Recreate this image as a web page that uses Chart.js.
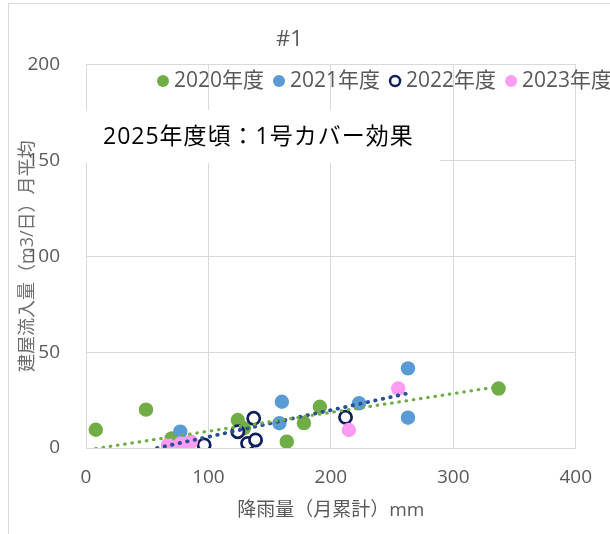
<!DOCTYPE html>
<html>
<head>
<meta charset="utf-8">
<script src="https://cdn.jsdelivr.net/npm/chart.js@4.4.1/dist/chart.umd.min.js"></script>
<style>
  html, body { margin: 0; padding: 0; background: #ffffff; }
  #wrap { width: 610px; height: 534px; }
</style>
</head>
<body>
<div id="wrap"><canvas id="c" width="610" height="534"></canvas></div>
<script>
// Monthly rainfall (mm) vs. mean building inflow (m3/day), #1
const seriesLabels = ['2020年度', '2021年度', '2022年度', '2023年度'];

const rain2020   = [8, 49, 70, 124, 129, 164, 178, 191, 337];
const inflow2020 = [9.5, 20, 5, 14.6, 10.3, 3.3, 13, 21.5, 31];

const rain2021   = [77, 158, 160, 223, 263, 263];
const inflow2021 = [8.5, 12.9, 24.1, 23.3, 41.5, 15.8];

const rain2022   = [96.5, 124, 132, 137, 138.5, 212];
const inflow2022 = [1.6, 8.5, 2.4, 15.5, 4.2, 16];

const rain2023   = [67, 77.6, 85.7, 214.7, 255];
const inflow2023 = [1.6, 2.4, 3.3, 9.4, 31];

// linear trend lines (end points)
const trendRain2020   = [8, 337];
const trendInflow2020 = [-0.3, 32];
const trendRain2021   = [58, 263];
const trendInflow2021 = [0, 28.5];

const xTicks = [0, 100, 200, 300, 400];
const yTicks = [0, 50, 100, 150, 200];

const chartTitle = '#1';
const xTitle = '降雨量（月累計）mm';
const yTitle = '建屋流入量（m3/日）月平均';
const noteText = '2025年度頃：1号カバー効果';

const colors = {
  g2020: '#70AD47',
  b2021: '#5B9BD5',
  n2022: '#0E1F5B',
  p2023: '#FC9CF2',
  trendBlue: '#2A4F94',
  grid: '#D9D9D9',
  text: '#595959',
  yTitle: '#6E6E6E'
};

const FONT = "'Open Sans', 'Noto Sans CJK JP', sans-serif";

const pts = (xs, ys) => xs.map((x, i) => ({ x: x, y: ys[i] }));

function markerSet(label, xs, ys, fill, stroke, order, radius, bw) {
  return {
    label: label,
    data: pts(xs, ys),
    showLine: false,
    pointRadius: radius,
    pointHoverRadius: radius,
    pointBackgroundColor: fill,
    pointBorderColor: stroke,
    pointBorderWidth: bw,
    order: order
  };
}

function trendSet(xs, ys, color, width, dash) {
  return {
    label: '',
    data: pts(xs, ys),
    showLine: true,
    pointRadius: 0,
    pointHoverRadius: 0,
    borderColor: color,
    borderWidth: width,
    borderDash: dash,
    borderCapStyle: 'round',
    fill: false,
    isTrend: true,
    order: 0
  };
}

// page background, outer frame, note box, legend
const decor = {
  id: 'decor',
  beforeDraw(chart) {
    const ctx = chart.ctx;
    ctx.save();
    ctx.fillStyle = '#ffffff';
    ctx.fillRect(0, 0, chart.width, chart.height);
    ctx.strokeStyle = '#D9D9D9';
    ctx.lineWidth = 1;
    ctx.strokeRect(8.5, 3.5, 800, 800);
    ctx.restore();
  },
  beforeDatasetsDraw(chart) {
    const ctx = chart.ctx;
    ctx.save();
    ctx.fillStyle = '#ffffff';
    ctx.fillRect(68, 110, 372, 53);
    ctx.fillStyle = '#000000';
    ctx.font = '23px ' + FONT;
    ctx.textBaseline = 'middle';
    ctx.textAlign = 'left';
    if ('letterSpacing' in ctx) ctx.letterSpacing = '1px';
    ctx.fillText(noteText, 103, 137);
    ctx.restore();
  },
  afterDraw(chart) {
    const ctx = chart.ctx;
    ctx.save();
    ctx.font = '21px ' + FONT;
    ctx.textBaseline = 'middle';
    ctx.textAlign = 'left';
    let x = 157;
    const y = 81;
    const r = 6;
    chart.data.datasets.forEach(ds => {
      if (ds.isTrend) return;
      ctx.beginPath();
      ctx.arc(x + r, y, ds.pointBorderWidth > 1 ? r - 1 : r, 0, Math.PI * 2);
      ctx.fillStyle = ds.pointBackgroundColor;
      ctx.fill();
      if (ds.pointBorderWidth > 1) {
        ctx.lineWidth = 2.5;
        ctx.strokeStyle = ds.pointBorderColor;
        ctx.stroke();
      }
      x += 2 * r + 5;
      ctx.fillStyle = colors.text;
      ctx.fillText(ds.label, x, y);
      x += ctx.measureText(ds.label).width + 9;
    });
    ctx.restore();
  }
};

new Chart(document.getElementById('c'), {
  type: 'scatter',
  data: {
    datasets: [
      trendSet(trendRain2020, trendInflow2020, colors.g2020, 3.2, [0.5, 6.8]),
      trendSet(trendRain2021, trendInflow2021, colors.trendBlue, 3.8, [0.5, 7.2]),
      markerSet(seriesLabels[0], rain2020, inflow2020, colors.g2020, colors.g2020, 5, 7.2, 0),
      markerSet(seriesLabels[1], rain2021, inflow2021, colors.b2021, colors.b2021, 4, 7.2, 0),
      markerSet(seriesLabels[2], rain2022, inflow2022, '#ffffff', colors.n2022, 3, 6.1, 2.7),
      markerSet(seriesLabels[3], rain2023, inflow2023, colors.p2023, colors.p2023, 2, 7.2, 0)
    ]
  },
  options: {
    responsive: false,
    animation: false,
    devicePixelRatio: 1,
    layout: { padding: { left: 0, right: 31, top: 0, bottom: 0 } },
    plugins: {
      legend: { display: false },
      tooltip: { enabled: false },
      title: {
        display: true,
        text: chartTitle,
        color: colors.text,
        font: { family: FONT, size: 22, weight: 'normal' },
        padding: { top: 27, bottom: 11 }
      }
    },
    scales: {
      x: {
        type: 'linear',
        min: 0,
        max: 400,
        afterBuildTicks(scale) { scale.ticks = xTicks.map(v => ({ value: v })); },
        afterFit(scale) { scale.height = 86; },
        grid: { color: colors.grid, lineWidth: 1, drawTicks: false },
        border: { color: colors.grid, width: 1 },
        ticks: {
          color: colors.text,
          padding: 18,
          font: { family: FONT, size: 19 }
        },
        title: {
          display: true,
          text: xTitle,
          color: colors.text,
          font: { family: FONT, size: 19 },
          padding: { top: 0, bottom: 11.6 }
        }
      },
      y: {
        type: 'linear',
        min: 0,
        max: 200,
        afterBuildTicks(scale) { scale.ticks = yTicks.map(v => ({ value: v })); },
        afterFit(scale) { scale.width = 86; },
        grid: { color: colors.grid, lineWidth: 1, drawTicks: false },
        border: { color: colors.grid, width: 1 },
        ticks: {
          color: colors.text,
          padding: 26,
          font: { family: FONT, size: 19 }
        },
        title: {
          display: true,
          text: yTitle,
          color: colors.yTitle,
          font: { family: FONT, size: 18 },
          padding: { top: 17, bottom: 0 }
        }
      }
    }
  },
  plugins: [decor]
});
</script>
</body>
</html>
